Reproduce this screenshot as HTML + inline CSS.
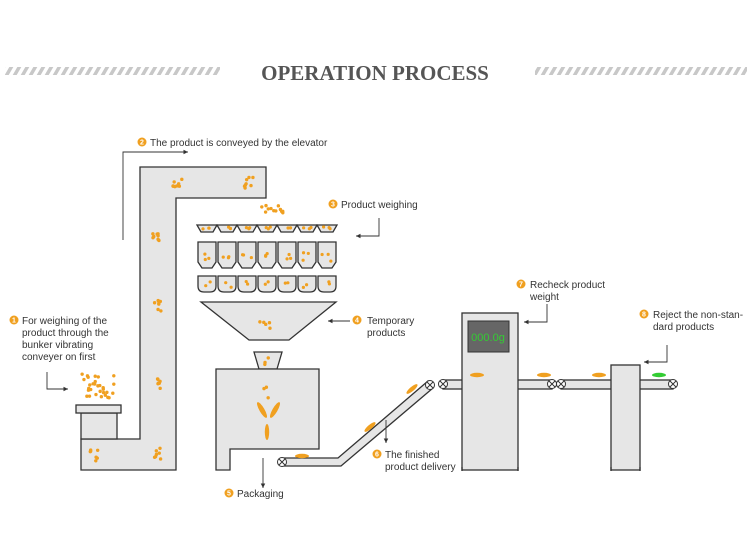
<!DOCTYPE html>
<html><head><meta charset="utf-8"><style>
html,body{margin:0;padding:0;background:#fff;}
svg{display:block}
text{font-family:"Liberation Sans",Arial,sans-serif;font-size:10px;fill:#333}
.n{fill:#fff;font-size:7px;font-weight:bold;text-anchor:middle}
</style></head><body>
<svg id="s" width="750" height="539" viewBox="0 0 750 539" xmlns="http://www.w3.org/2000/svg">
<defs>
<pattern id="st" width="8" height="9" patternUnits="userSpaceOnUse" patternTransform="skewX(-30)">
<rect x="0" y="0" width="4" height="9" fill="#c8c8c8"/></pattern>
<marker id="ar" markerWidth="6" markerHeight="6" refX="5" refY="3" orient="auto"><path d="M0,0.5 L5,3 L0,5.5z" fill="#333"/></marker>
</defs>
<rect x="5" y="67" width="215" height="8" fill="url(#st)"/>
<rect x="535" y="67" width="212" height="8" fill="url(#st)"/>
<text x="375" y="80" text-anchor="middle" style="font-family:'Liberation Serif',serif;font-size:21px;font-weight:bold;fill:#555">OPERATION PROCESS</text>

<g fill="#e6e6e6" stroke="#333" stroke-width="1.3">
<path d="M140,167 H266 V198 H176 V470 H81 V439 H140 Z"/>
<rect x="81" y="413" width="36" height="26"/>
<rect x="76" y="405" width="45" height="8"/>
<path d="M201,302 H336 L289,340 H249 Z"/>
<path d="M254,352 H282 L277,369 H259 Z"/>
<path d="M216,369 H319 V449 H230 V470 H216 Z"/>
<path d="M282,458 H338 L428,381 L433,388 L341,466 H282 Z"/>
<rect x="443" y="380" width="109" height="9"/>
<rect x="561" y="380" width="112" height="9"/>
<rect x="462" y="313" width="56" height="157"/>
<rect x="611" y="365" width="29" height="105"/>
</g>
<rect x="468" y="321" width="41" height="31" fill="#666" stroke="#333"/>
<text x="488" y="341" text-anchor="middle" style="fill:#3c3;font-size:11px">000.0g</text>
<g fill="none" stroke="#333" stroke-width="1.3">
<path d="M462,467 v4 M518,467 v4 M611,467 v4 M640,467 v4"/>
</g>
<g id="weigh" fill="#e6e6e6" stroke="#333" stroke-width="1.3"></g>
<g id="rolls" fill="#fff" stroke="#333" stroke-width="1"></g>
<g id="dots" fill="#f0a020"></g>

<g fill="none" stroke="#333" stroke-width="0.9" marker-end="url(#ar)">
<path d="M123,240 V152 H188"/>
<path d="M47,372 V389 H68"/>
<path d="M379,218 V236 H356"/>
<path d="M350,321 H328"/>
<path d="M263,458 V488"/>
<path d="M386,420 V443"/>
<path d="M547,304 V322 H524"/>
<path d="M667,345 V362 H644"/>
</g>

<g>
<circle cx="142" cy="142" r="4.5" fill="#f0a020"/><text class="n" x="142" y="144.5">2</text><text x="150" y="146">The product is conveyed by the elevator</text>
<circle cx="14" cy="320" r="4.5" fill="#f0a020"/><text class="n" x="14" y="322.5">1</text>
<text x="22" y="324">For weighing of the</text>
<text x="22" y="336">product through the</text>
<text x="22" y="348">bunker vibrating</text>
<text x="22" y="360">conveyer on first</text>
<circle cx="333" cy="204" r="4.5" fill="#f0a020"/><text class="n" x="333" y="206.5">3</text><text x="341" y="208">Product weighing</text>
<circle cx="357" cy="320" r="4.5" fill="#f0a020"/><text class="n" x="357" y="322.5">4</text><text x="367" y="324">Temporary</text><text x="367" y="336">products</text>
<circle cx="229" cy="493" r="4.5" fill="#f0a020"/><text class="n" x="229" y="495.5">5</text><text x="237" y="497">Packaging</text>
<circle cx="377" cy="454" r="4.5" fill="#f0a020"/><text class="n" x="377" y="456.5">6</text><text x="385" y="458">The finished</text><text x="385" y="470">product delivery</text>
<circle cx="521" cy="284" r="4.5" fill="#f0a020"/><text class="n" x="521" y="286.5">7</text><text x="530" y="288">Recheck product</text><text x="530" y="300">weight</text>
<circle cx="644" cy="314" r="4.5" fill="#f0a020"/><text class="n" x="644" y="316.5">8</text><text x="653" y="318">Reject the non-stan-</text><text x="653" y="330">dard products</text>
</g>
</svg>
<script>
var NS="http://www.w3.org/2000/svg";
var seed=7;function rnd(){seed=(seed*16807)%2147483647;return seed/2147483647;}
function el(p,t,a){var e=document.createElementNS(NS,t);for(var k in a)e.setAttribute(k,a[k]);document.getElementById(p).appendChild(e);return e;}
for(var i=0;i<7;i++){var x=197+i*20;
el("weigh","path",{d:"M"+x+",225 L"+(x+4)+",232 H"+(x+16)+" L"+(x+20)+",225 Z"});
el("weigh","path",{d:"M"+(x+1)+",242 V262 L"+(x+5)+",268 H"+(x+15)+" L"+(x+19)+",262 V242 Z"});
el("weigh","path",{d:"M"+(x+1)+",276 V286 Q"+(x+1)+",292 "+(x+7)+",292 H"+(x+13)+" Q"+(x+19)+",292 "+(x+19)+",286 V276 Z"});
for(var j=0;j<3;j++){el("dots","circle",{cx:x+6+rnd()*8,cy:227+rnd()*2,r:1.6});
el("dots","circle",{cx:x+5+rnd()*10,cy:252+rnd()*10,r:1.6});}
for(var j=0;j<2;j++)el("dots","circle",{cx:x+5+rnd()*10,cy:280+rnd()*8,r:1.6});}
function cl(cx,cy,n,rx,ry){for(var i=0;i<n;i++)el("dots","circle",{cx:cx+(rnd()*2-1)*rx,cy:cy+(rnd()*2-1)*ry,r:1.7});}
cl(178,182,8,5,5);cl(249,183,8,5,6);cl(155,235,8,4,6);cl(157,305,7,4,6);cl(158,383,7,4,6);cl(158,454,7,4,6);cl(94,456,7,4,6);
cl(98,386,30,16,12);cl(270,209,12,14,4);cl(262,325,5,10,5);cl(266,361,3,3,4);cl(267,393,3,3,6);
var r=[[282,462],[430,385],[443,384],[552,384],[561,384],[673,384]];
r.forEach(function(p){el("rolls","circle",{cx:p[0],cy:p[1],r:4.5});
el("rolls","path",{d:"M"+(p[0]-3)+","+(p[1]-3)+"l6,6M"+(p[0]+3)+","+(p[1]-3)+"l-6,6"});});
[[302,456,0,"#f0a020"],[477,375,0,"#f0a020"],[544,375,0,"#f0a020"],[599,375,0,"#f0a020"],[659,375,0,"#3c3"],[370,427,-40,"#f0a020"],[412,389,-40,"#f0a020"]].forEach(function(p){
el("dots","ellipse",{cx:p[0],cy:p[1],rx:7,ry:2.2,fill:p[3],transform:"rotate("+p[2]+" "+p[0]+" "+p[1]+")"});});
el("dots","ellipse",{cx:262,cy:410,rx:2.5,ry:9,transform:"rotate(-30 262 410)"});
el("dots","ellipse",{cx:275,cy:410,rx:2.5,ry:9,transform:"rotate(30 275 410)"});
el("dots","ellipse",{cx:267,cy:432,rx:2.2,ry:8});
</script>
</body></html>
